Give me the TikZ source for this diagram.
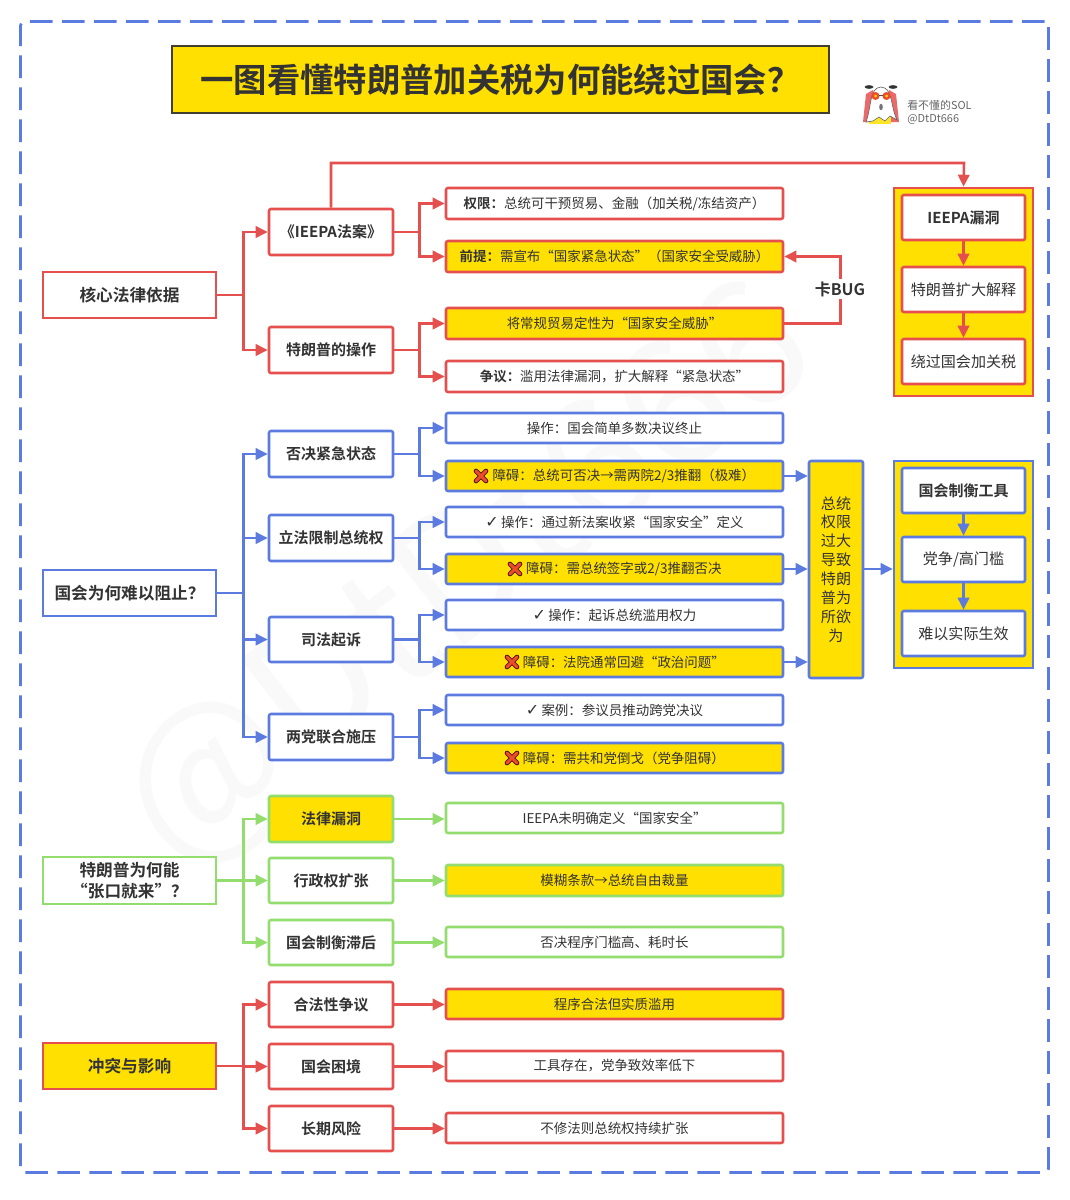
\documentclass[tikz,border=0pt]{standalone}
\usepackage{fontspec}
\setmainfont{Noto Sans CJK SC}[BoldFont={Noto Sans CJK SC Bold}]
\newfontfamily\djv{DejaVu Sans}
\usetikzlibrary{arrows.meta}
\definecolor{cred}{HTML}{E5504F}
\definecolor{cblue}{HTML}{5B7BE0}
\definecolor{cgreen}{HTML}{93DD6F}
\definecolor{cyel}{HTML}{FFE000}
\definecolor{ctxt}{HTML}{333333}
\definecolor{xred}{HTML}{EE4B2B}
\newcommand\ok{{\djv\fontsize{12}{13}\selectfont ✓}\,}
\newcommand\xsp{\hspace{14pt}}
\newcommand\bx[7][]{%
  \pgfmathsetmacro\cx{(#3+#5)/2}\pgfmathsetmacro\cy{(#4+#6)/2}%
  \node[basebox,#1,minimum width={(#5-#3)*0.75pt},minimum height={(#6-#4)*0.75pt}] (#2) at (\cx,\cy) {#7};}
\newcommand\lx[7][]{\bx[#1]{#2}{#3}{#4}{#5}{#6}{\raisebox{-0.75pt}{#7}}}
\tikzset{
  basebox/.style={draw,rounded corners=1.5pt,line width=1.9pt,inner sep=0pt,fill=white,text=ctxt,align=center,font=\fontsize{10.1}{13}\selectfont},
  rb/.style={draw=cred},
  bb/.style={draw=cblue},
  gb/.style={draw=cgreen},
  yl/.style={fill=cyel},
  hd/.style={font=\fontsize{11.25}{14}\bfseries},
  top/.style={font=\fontsize{12.5}{15.5}\bfseries},
  sub/.style={font=\fontsize{11.3}{14.2}\selectfont},
  wire/.style={line width=1.9pt,line join=miter},
  arr/.style={wire,-{Triangle[length=9pt,width=8.5pt]}},
  sharp/.style={rounded corners=0pt},
  crossdark/.style={line width=3.5pt,draw=black!70!xred,line cap=round},
  crossred/.style={line width=2.2pt,draw=xred,line cap=round},
}
\newcommand\crossat[2]{%
  \draw[crossdark] (#1-5,#2-5) -- (#1+5,#2+5) (#1-5,#2+5) -- (#1+5,#2-5);
  \draw[crossred] (#1-5,#2-5) -- (#1+5,#2+5) (#1-5,#2+5) -- (#1+5,#2-5);}
\begin{document}
\begin{tikzpicture}[x=0.75pt,y=-0.75pt]
\useasboundingbox (0,0) rectangle (1070,1200);
\fill[white] (0,0) rectangle (1070,1200);
% watermark
\node[rotate=38,text=black!2.5,font=\fontsize{130}{130}\selectfont,inner sep=0pt] (mark) at (470,580) {@DtDt666};
% frame
\node[draw=cblue,line width=2.1pt,dash pattern=on 17pt off 7pt,rounded corners=3pt,minimum width={1028*0.75pt},minimum height={1151*0.75pt},inner sep=0pt] (frame) at (534.5,597) {};
% title
\bx[draw=black!70!olive,yl,line width=1pt,rounded corners=0pt,text=ctxt,font=\fontsize{25}{30}\bfseries]{title}{172}{46}{829}{113}{\raisebox{-1.4pt}{一图看懂特朗普加关税为何能绕过国会？}}
% avatar
\fill[cred!85] (863,122) -- (866,94) -- (873,90) -- (877,122) -- cycle;
\fill[cred!85] (899,122) -- (896,94) -- (889,90) -- (885,122) -- cycle;
\fill[cyel!85] (869,114) rectangle (891,124);
\draw[fill=white,draw=black!60,line width=.5pt] (866,122) .. controls (872,105) and (869,88) .. (881,87) .. controls (893,88) and (890,105) .. (897,120) -- (890,116) -- (885,121) -- (879,117) -- (873,121) -- cycle;
\fill[black!80] (869,87) ellipse (4.5 and 1.8) (893,87) ellipse (4.5 and 1.8);
\fill[xred] (875.5,96) circle (4) (886.5,96) circle (4);
\fill[cyel] (875.5,96) circle (1.5) (886.5,96) circle (1.5);
\draw[black!70,line width=.6pt] (879,95) -- (883,95);
\fill[black!55] (881,107) ellipse (1.8 and 3.2);
\node[anchor=west,inner sep=0pt,text=black!60,font=\fontsize{8.2}{10}\selectfont] (brand) at (907,105.5) {看不懂的SOL};
\node[anchor=west,inner sep=0pt,text=black!60,font=\fontsize{8.2}{10}\selectfont] (handle) at (907,119) {@DtDt666};

% ---- section 1
\bx[rb,yl,rounded corners=0pt]{loop}{894}{188}{1033}{396}{}
\bx[rb,top,sharp]{core}{43}{272}{216}{318}{核心法律依据}
\bx[rb,hd]{ieepa}{269}{209}{393}{255}{《IEEPA法案》}
\bx[rb,hd]{trump}{269}{327}{393}{373}{特朗普的操作}
\lx[rb]{a1}{446}{188}{783}{219}{\textbf{权限：}总统可干预贸易、金融（加关税/冻结资产）}
\lx[rb,yl]{a2}{446}{241}{783}{272}{\textbf{前提：}需宣布“国家紧急状态”（国家安全受威胁）}
\lx[rb,yl]{a3}{446}{308}{783}{339}{将常规贸易定性为“国家安全威胁”}
\lx[rb]{a4}{446}{361}{783}{392}{\textbf{争议：}滥用法律漏洞，扩大解释“紧急状态”}
\bx[rb,hd]{l1}{902}{195}{1025}{240}{IEEPA漏洞}
\bx[rb,sub]{l2}{902}{267}{1025}{312}{特朗普扩大解释}
\bx[rb,sub]{l3}{902}{339}{1025}{384}{绕过国会加关税}
\begin{scope}[draw=cred,color=cred]
\draw[arr] (core.east) -- ++(26,0) |- (ieepa.west);
\draw[arr] (core.east) -- ++(26,0) |- (trump.west);
\draw[arr] (ieepa.east) -- ++(25,0) |- (a1.west);
\draw[arr] (ieepa.east) -- ++(25,0) |- (a2.west);
\draw[arr] (trump.east) -- ++(25,0) |- (a3.west);
\draw[arr] (trump.east) -- ++(25,0) |- (a4.west);
\draw[arr] (ieepa.north) |- (964,163) -- (loop.north -| l1.north);
\draw[arr] (a3.east) -- ++(56,0) |- (a2.east);
\draw[arr] (l1.south) -- (l2.north);
\draw[arr] (l2.south) -- (l3.north);
\end{scope}
\node[fill=white,text=ctxt,inner sep=1.5pt,font=\fontsize{12}{15}\bfseries] (bug) at (840,289) {卡BUG};

% ---- section 2
\bx[bb,yl,rounded corners=0pt]{tools}{894}{461}{1033}{668}{}
\bx[bb,top,sharp]{cong}{43}{570}{216}{616}{国会为何难以阻止？}
\bx[bb,hd]{b1}{269}{431}{393}{477}{否决紧急状态}
\bx[bb,hd]{b2}{269}{515}{393}{561}{立法限制总统权}
\bx[bb,hd]{b3}{269}{617}{393}{662}{司法起诉}
\bx[bb,hd]{b4}{269}{714}{393}{760}{两党联合施压}
\lx[bb]{c1}{446}{413}{783}{443}{操作：国会简单多数决议终止}
\lx[bb,yl]{c2}{446}{461}{783}{491}{\xsp 障碍：总统可否决→需两院2/3推翻（极难）}
\lx[bb]{c3}{446}{507}{783}{537}{\ok 操作：通过新法案收紧“国家安全”定义}
\lx[bb,yl]{c4}{446}{554}{783}{584}{\xsp 障碍：需总统签字或2/3推翻否决}
\lx[bb]{c5}{446}{600}{783}{630}{\ok 操作：起诉总统滥用权力}
\lx[bb,yl]{c6}{446}{647}{783}{677}{\xsp 障碍：法院通常回避“政治问题”}
\lx[bb]{c7}{446}{695}{783}{725}{\ok 案例：参议员推动跨党决议}
\lx[bb,yl]{c8}{446}{743}{783}{773}{\xsp 障碍：需共和党倒戈（党争阻碍）}
\bx[bb,yl,sub]{sum}{809}{461}{863}{678}{总统\\权限\\过大\\导致\\特朗\\普为\\所欲\\为}
\bx[bb,hd]{t1}{902}{468}{1025}{513}{国会制衡工具}
\bx[bb,sub]{t2}{902}{537}{1025}{582}{党争/高门槛}
\bx[bb,sub]{t3}{902}{611}{1025}{656}{难以实际生效}
\begin{scope}[draw=cblue,color=cblue]
\foreach \k in {b1,b2,b3,b4} \draw[arr] (cong.east) -- ++(26,0) |- (\k.west);
\draw[arr] (b1.east) -- ++(25,0) |- (c1.west);
\draw[arr] (b1.east) -- ++(25,0) |- (c2.west);
\draw[arr] (b2.east) -- ++(25,0) |- (c3.west);
\draw[arr] (b2.east) -- ++(25,0) |- (c4.west);
\draw[arr] (b3.east) -- ++(25,0) |- (c5.west);
\draw[arr] (b3.east) -- ++(25,0) |- (c6.west);
\draw[arr] (b4.east) -- ++(25,0) |- (c7.west);
\draw[arr] (b4.east) -- ++(25,0) |- (c8.west);
\draw[arr] (c2.east) -- (c2.east -| sum.west);
\draw[arr] (c4.east) -- (c4.east -| sum.west);
\draw[arr] (c6.east) -- (c6.east -| sum.west);
\draw[arr] (c4.east -| sum.east) -- (c4.east -| tools.west);
\draw[arr] (t1.south) -- (t2.north);
\draw[arr] (t2.south) -- (t3.north);
\end{scope}
\crossat{481}{476}
\crossat{515}{569}
\crossat{512}{662}
\crossat{512}{758}

% ---- section 3
\bx[gb,top,sharp]{why}{43}{857}{216}{904}{特朗普为何能\\“张口就来”？}
\bx[gb,hd,yl]{d1}{269}{796}{393}{842}{法律漏洞}
\bx[gb,hd]{d2}{269}{858}{393}{903}{行政权扩张}
\bx[gb,hd]{d3}{269}{920}{393}{965}{国会制衡滞后}
\lx[gb]{e1}{446}{803}{783}{833}{IEEPA未明确定义“国家安全”}
\lx[gb,yl]{e2}{446}{865}{783}{896}{模糊条款→总统自由裁量}
\lx[gb]{e3}{446}{927}{783}{957}{否决程序门槛高、耗时长}
\begin{scope}[draw=cgreen,color=cgreen]
\foreach \k in {d1,d2,d3} \draw[arr] (why.east) -- ++(26,0) |- (\k.west);
\draw[arr] (d1.east) -- (e1.west |- d1.east);
\draw[arr] (d2.east) -- (e2.west |- d2.east);
\draw[arr] (d3.east) -- (e3.west |- d3.east);
\end{scope}

% ---- section 4
\bx[rb,top,yl,sharp]{impact}{43}{1043}{216}{1089}{冲突与影响}
\bx[rb,hd]{f1}{269}{982}{393}{1027}{合法性争议}
\bx[rb,hd]{f2}{269}{1044}{393}{1089}{国会困境}
\bx[rb,hd]{f3}{269}{1106}{393}{1151}{长期风险}
\lx[rb,yl]{g1}{446}{989}{783}{1019}{程序合法但实质滥用}
\lx[rb]{g2}{446}{1051}{783}{1081}{工具存在，党争致效率低下}
\lx[rb]{g3}{446}{1113}{783}{1143}{不修法则总统权持续扩张}
\begin{scope}[draw=cred,color=cred]
\foreach \k in {f1,f2,f3} \draw[arr] (impact.east) -- ++(26,0) |- (\k.west);
\draw[arr] (f1.east) -- (g1.west |- f1.east);
\draw[arr] (f2.east) -- (g2.west |- f2.east);
\draw[arr] (f3.east) -- (g3.west |- f3.east);
\end{scope}
\end{tikzpicture}
\end{document}
